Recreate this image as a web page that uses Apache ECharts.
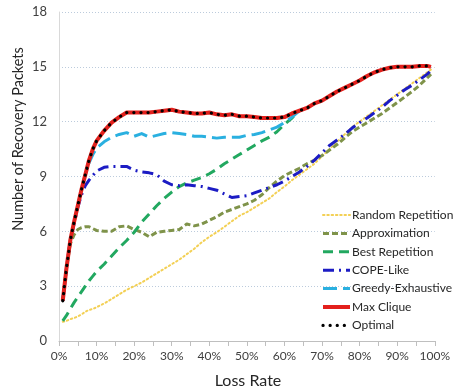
<!DOCTYPE html>
<html>
<head>
<meta charset="utf-8">
<script src="https://cdn.jsdelivr.net/npm/echarts@6/dist/echarts.min.js"></script>
<style>
  html, body { margin: 0; padding: 0; background: #ffffff; }
  #chart { width: 453px; height: 389px; }
</style>
</head>
<body>
<div id="chart"></div>
<script>
// Loss rate (%) at which each scheme was measured
const lossRate = [1,2,3,4,5,6,7,8,9,10,12,14,16,18,20,22,24,26,28,30,32,34,36,38,40,42,44,46,48,50,52,54,56,58,60,62,64,66,68,70,72,74,76,78,80,82,84,86,88,90,92,94,96,98,99];

const randomRepetition = [1.05,1.1,1.2,1.25,1.35,1.45,1.6,1.7,1.75,1.85,2.05,2.3,2.55,2.8,3.0,3.2,3.45,3.7,3.95,4.2,4.45,4.75,5.05,5.4,5.7,5.95,6.25,6.55,6.85,7.05,7.3,7.55,7.8,8.15,8.45,8.8,9.1,9.4,9.7,10.1,10.5,10.9,11.3,11.7,12.0,12.3,12.6,12.9,13.2,13.5,13.8,14.1,14.4,14.7,14.85];

const approximation = [2.2,4.0,5.3,5.8,6.1,6.2,6.25,6.25,6.15,6.05,6.0,6.0,6.25,6.3,6.1,5.95,5.7,5.95,6.0,6.05,6.1,6.4,6.3,6.4,6.6,6.8,7.05,7.2,7.35,7.5,7.7,8.0,8.4,8.75,9.05,9.25,9.45,9.7,9.9,10.15,10.45,10.75,11.1,11.45,11.7,11.95,12.2,12.45,12.75,13.05,13.35,13.65,14.0,14.4,14.6];

// Best Repetition and Greedy-Exhaustive join Max Clique at 64%
const bestRepetition = [1.1,1.4,1.75,2.1,2.4,2.7,3.0,3.3,3.55,3.8,4.2,4.65,5.1,5.5,5.95,6.5,6.95,7.4,7.8,8.15,8.45,8.65,8.8,8.95,9.15,9.4,9.7,9.95,10.2,10.45,10.7,10.95,11.15,11.45,11.85,12.2,12.6];

const copeLike = [2.2,4.0,5.5,6.4,7.3,8.0,8.5,8.8,9.05,9.3,9.5,9.55,9.55,9.55,9.35,9.25,9.2,9.1,8.75,8.55,8.5,8.55,8.5,8.45,8.35,8.25,8.05,7.85,7.9,7.95,8.1,8.25,8.4,8.55,8.75,9.0,9.25,9.55,9.9,10.3,10.7,11.0,11.3,11.65,11.95,12.2,12.5,12.8,13.15,13.45,13.75,14.0,14.3,14.6,14.8];

const greedyExhaustive = [2.2,4.0,5.5,6.5,7.4,8.3,9.1,9.75,10.2,10.55,10.9,11.15,11.3,11.4,11.2,11.35,11.15,11.25,11.35,11.4,11.35,11.3,11.2,11.2,11.15,11.1,11.15,11.15,11.15,11.25,11.3,11.4,11.55,11.7,11.95,12.25,12.6];

const maxClique = [2.2,4.0,5.5,6.5,7.4,8.3,9.1,9.9,10.5,10.95,11.5,11.95,12.25,12.5,12.5,12.5,12.5,12.55,12.6,12.65,12.55,12.5,12.45,12.45,12.5,12.4,12.35,12.4,12.3,12.3,12.25,12.2,12.2,12.2,12.25,12.45,12.6,12.75,13.0,13.15,13.4,13.65,13.85,14.05,14.25,14.5,14.7,14.85,14.95,15.0,15.0,15.0,15.05,15.05,15.0];

const optimal = [2.2,4.0,5.5,6.5,7.4,8.3,9.1,9.9,10.5,10.95,11.5,11.95,12.25,12.5,12.5,12.5,12.5,12.55,12.6,12.65,12.55,12.5,12.45,12.45,12.5,12.4,12.35,12.4,12.3,12.3,12.25,12.2,12.2,12.2,12.25,12.45,12.6,12.75,13.0,13.15,13.4,13.65,13.85,14.05,14.25,14.5,14.7,14.85,14.95,15.0,15.0,15.0,15.05,15.05,15.0];

const xTickLabels = ['0%','10%','20%','30%','40%','50%','60%','70%','80%','90%','100%'];
const yTicks = [0,3,6,9,12,15,18];

const FONT = 'Lato, "Open Sans", sans-serif';

function pairs(ys) {
  return ys.map((y, i) => [lossRate[i], y]);
}

function lineSeries(name, ys, color, width, dash, cap) {
  return {
    name: name,
    type: 'line',
    data: pairs(ys),
    showSymbol: false,
    symbol: 'none',
    smooth: false,
    silent: true,
    animation: false,
    lineStyle: { color: color, width: width, type: dash, cap: cap || 'butt', join: 'round' },
    itemStyle: { color: color }
  };
}

const chart = echarts.init(document.getElementById('chart'), null, { renderer: 'canvas' });

chart.setOption({
  backgroundColor: '#ffffff',
  animation: false,
  grid: { left: 59, right: 15, top: 12, bottom: 48, containLabel: false },
  xAxis: {
    type: 'value',
    min: 0, max: 100, interval: 5,
    axisLine: { show: true, lineStyle: { color: '#bfbfbf', width: 1 } },
    axisTick: { show: true, length: 5, lineStyle: { color: '#bfbfbf' } },
    axisLabel: {
      margin: 9, color: '#404040', fontFamily: FONT, fontSize: 12,
      formatter: v => (v % 10 === 0 ? xTickLabels[v / 10] : '')
    },
    splitLine: { show: false }
  },
  yAxis: {
    type: 'value',
    min: yTicks[0], max: yTicks[yTicks.length - 1], interval: 3,
    axisLine: { show: true, lineStyle: { color: '#d9d9d9', width: 1 } },
    axisTick: { show: false },
    axisLabel: { margin: 12, color: '#404040', fontFamily: FONT, fontSize: 13 },
    splitLine: { show: true, lineStyle: { color: '#bccbdc', width: 1, type: [1, 2] } }
  },
  legend: {
    orient: 'vertical',
    left: 316, top: 204,
    itemWidth: 27, itemHeight: 14, itemGap: 6.4,
    selectedMode: false,
    itemStyle: { opacity: 0 },
    lineStyle: { width: 'inherit' },
    textStyle: { color: '#262626', fontFamily: FONT, fontSize: 12, padding: [0, 0, 0, -3] },
    data: ['Random Repetition','Approximation','Best Repetition','COPE-Like','Greedy-Exhaustive','Max Clique','Optimal']
  },
  graphic: [
    {
      type: 'text',
      style: { text: 'Loss Rate', fontFamily: FONT, fontSize: 16, fill: '#262626', x: 248, y: 381, align: 'center', verticalAlign: 'middle' }
    },
    {
      type: 'text', x: 18, y: 139, rotation: Math.PI / 2,
      style: { text: 'Number of Recovery Packets', fontFamily: FONT, fontSize: 14.5, fill: '#262626', align: 'center', verticalAlign: 'middle' }
    }
  ],
  series: [
    lineSeries('Random Repetition', randomRepetition, '#f3d055', 2, [1.5, 2.8], 'round'),
    lineSeries('Approximation', approximation, '#7f934a', 3, [6, 3]),
    lineSeries('Best Repetition', bestRepetition, '#22a860', 3, [10, 6]),
    lineSeries('COPE-Like', copeLike, '#1c1cc4', 3, [11, 5, 2, 5]),
    lineSeries('Greedy-Exhaustive', greedyExhaustive, '#2ab0e0', 3, [14, 6]),
    lineSeries('Max Clique', maxClique, '#e3201c', 4, 'solid'),
    lineSeries('Optimal', optimal, '#000000', 3.2, [0.1, 7], 'round')
  ]
});
</script>
</body>
</html>
